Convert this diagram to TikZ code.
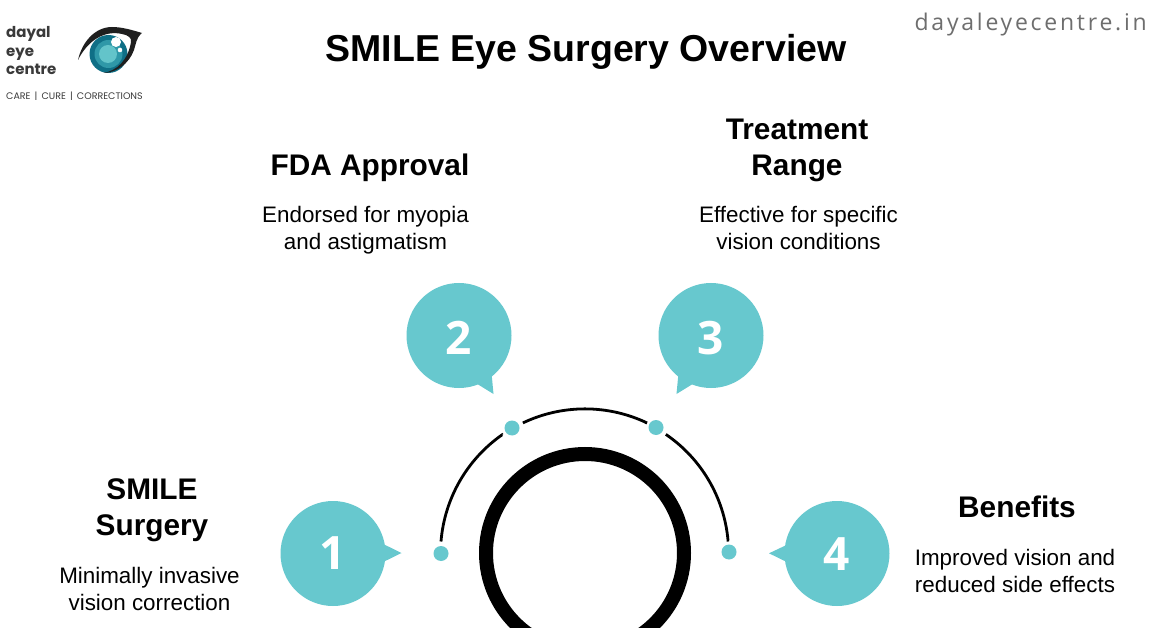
\documentclass[tikz,border=0pt]{standalone}
\usepackage{fontspec}
\setmainfont{Liberation Sans}
\newfontfamily\logofont{Poppins}
\newfontfamily\urlfont[LetterSpace=12]{Open Sans}
\newfontfamily\digitfont{Open Sans}
\definecolor{teal1}{HTML}{67C8CE}
\definecolor{logotxt}{HTML}{3A3A3A}
\definecolor{urlgrey}{HTML}{6E6E6E}
\definecolor{eyeA}{HTML}{0F6F86}
\definecolor{eyeB}{HTML}{2F98A8}
\definecolor{eyeC}{HTML}{63C4CA}
\tikzset{
  x=1pt,y=-1pt,
  head/.style={font=\bfseries\fontsize{29.8}{36}\selectfont,align=center,inner sep=0pt,text=black},
  body/.style={font=\fontsize{22.4}{27}\selectfont,align=center,inner sep=0pt,text=black},
  bubble/.style={circle,fill=teal1,minimum size=105pt,inner sep=0pt,text=white,font=\digitfont\bfseries\fontsize{46}{46}\selectfont},
  tailfill/.style={fill=teal1,draw=none},
  dotnode/.style={circle,fill=teal1,minimum size=15pt,inner sep=0pt,outer sep=4.5pt},
  arcline/.style={line width=2.8pt,black},
}
\begin{document}
\begin{tikzpicture}
\useasboundingbox (0,0) rectangle (1170,628);
\fill[white] (0,0) rectangle (1170,628);
% title and url
\node[inner sep=0pt,font=\bfseries\fontsize{37.5}{40}\selectfont] (title) at (586,52) {SMILE Eye Surgery Overview};
\node[inner sep=0pt,text=urlgrey,anchor=east,font=\urlfont\fontsize{23}{26}\selectfont] (url) at (1147,25) {dayaleyecentre.in};
% logo
\node[inner sep=0pt,anchor=west,align=left,text=logotxt,font=\logofont\bfseries\fontsize{15}{18.5}\selectfont] (logo) at (6,51) {dayal\\eye\\centre};
\node[inner sep=0pt,anchor=west,text=logotxt,font=\logofont\fontsize{9.5}{10}\selectfont] (tag) at (6,96) {CARE \,|\, CURE \,|\, CORRECTIONS};
\fill[eyeA] (108.5,54) circle (19);
\fill[eyeB] (108.5,54) circle (14);
\fill[eyeC] (108,54) circle (9);
\fill[white] (116,42) circle (5);
\fill[white] (120,50) circle (2.3);
\fill[black!88] (78,60) .. controls (82,42) and (95,27) .. (112,27) .. controls (122,27) and (132,30) .. (142,33) .. controls (136,38) and (136,44) .. (134,50) .. controls (129,64) and (116,73) .. (103,73) .. controls (117,71) and (128,60) .. (131,42) .. controls (132,38) and (128,35) .. (122,34) .. controls (105,30) and (88,40) .. (78,60) -- cycle;
% bubbles
\fill[tailfill] (375,540) -- (401.5,553) -- (375,566) -- cycle;
\fill[tailfill] (472,380) -- (477.3,384) -- (493.5,394) -- (491.7,375) -- (487,370) -- cycle;
\fill[tailfill] (698,380) -- (692.7,384) -- (676.5,394) -- (678.3,375) -- (683,370) -- cycle;
\fill[tailfill] (795,541) -- (769,553.3) -- (795,566) -- cycle;
\node[bubble,text height=34pt,text depth=2pt] (b1) at (333,553.5) {1};
\node[bubble,text height=37pt,text depth=0pt] (b2) at (459,335.5) {2};
\node[bubble,text height=37pt,text depth=0pt] (b3) at (711,335.5) {3};
\node[bubble,text height=33pt,text depth=0pt] (b4) at (837,553.5) {4};
% ring and arc
\node[circle,draw=black,line width=14pt,minimum size=198pt,inner sep=0pt,outer sep=0pt] (ring) at (585,553) {};
\node[dotnode] (d1) at (441,553.5) {};
\node[dotnode] (d2) at (512,428) {};
\node[dotnode] (d3) at (656,427.5) {};
\node[dotnode] (d4) at (729,552) {};
\draw[arcline] (d1.90) arc[start angle=175.4,end angle=125,radius=144.4pt] -- (d2.215);
\draw[arcline] (d2.25) arc[start angle=115.5,end angle=64.5,radius=144.2pt] -- (d3.155);
\draw[arcline] (d3.-35) arc[start angle=55.7,end angle=5.2,radius=143.8pt] -- (d4.90);
% labels
\node[head] (h1) at (152,510.5) {SMILE\\Surgery};
\node[body] (t1) at (149.5,588.5) {Minimally invasive\\vision correction};
\node[head] (h2) at (370,168) {FDA Approval};
\node[body] (t2) at (365.5,230) {Endorsed for myopia\\and astigmatism};
\node[head] (h3) at (797,150) {Treatment\\Range};
\node[body] (t3) at (798.5,228) {Effective for specific\\vision conditions};
\node[head] (h4) at (1017,506.5) {Benefits};
\node[body] (t4) at (1015,571) {Improved vision and\\reduced side effects};
\end{tikzpicture}
\end{document}
